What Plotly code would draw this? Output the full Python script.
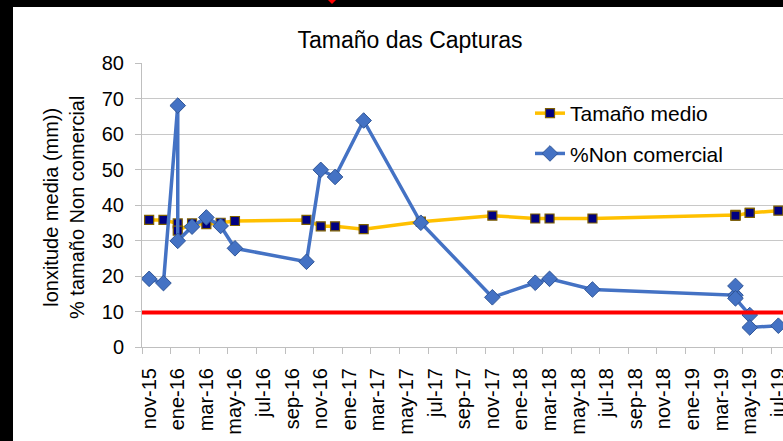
import plotly.graph_objects as go

# datos leidos da grafica (un punto por mostraxe)
fechas = ["2015-11", "2015-12", "2016-01", "2016-01", "2016-02", "2016-03", "2016-04",
          "2016-05", "2016-10", "2016-11", "2016-12", "2017-02", "2017-06", "2017-11",
          "2018-02", "2018-03", "2018-06", "2019-04", "2019-04", "2019-04", "2019-05",
          "2019-05", "2019-07"]
tamano_medio = [35.8, 35.8, 34.8, 32.8, 34.8, 34.6, 35.0, 35.5, 35.8, 34.0, 34.0, 33.2,
                35.3, 37.0, 36.2, 36.2, 36.2, 37.2, 37.0, 37.0, 37.8, 37.8, 38.4]
non_comercial = [19.2, 18.0, 68.0, 29.9, 33.9, 36.5, 34.1, 27.8, 24.0, 49.9, 47.9, 63.8,
                 35.0, 14.0, 18.1, 19.2, 16.2, 14.6, 17.2, 13.7, 9.0, 5.5, 6.0]
limite = 9.7

etiquetas_x = ["nov-15", "ene-16", "mar-16", "may-16", "jul-16", "sep-16", "nov-16",
               "ene-17", "mar-17", "may-17", "jul-17", "sep-17", "nov-17", "ene-18",
               "mar-18", "may-18", "jul-18", "sep-18", "nov-18", "ene-19", "mar-19",
               "may-19", "jul-19"]

FONT = "Liberation Sans, Arial, sans-serif"
W, H = 783, 441
ML, MR, MT, MB = 142, 0, 63, 94
PW, PH = W - ML - MR, H - MT - MB
PX_MES = 14.3


def mes_index(f):
    y, m = f.split("-")
    return (int(y) - 2015) * 12 + int(m) - 11 + 0.5


def px2x(px):
    return (px - ML) / PW


def py2y(py):
    return (H - MB - py) / PH


x = [mes_index(f) for f in fechas]

fig = go.Figure()
fig.add_trace(go.Scatter(
    x=x, y=tamano_medio, mode="lines+markers", name="Tamaño medio",
    legendgroup="a",
    line=dict(color="#FFC000", width=3.5),
    marker=dict(symbol="square", size=9, color="#000080",
                line=dict(color="#7F6000", width=1.2)),
))
fig.add_trace(go.Scatter(
    x=x, y=non_comercial, mode="lines+markers", name="%Non comercial",
    legendgroup="b",
    line=dict(color="#4472C4", width=3.5),
    marker=dict(symbol="diamond", size=12, color="#4472C4",
                line=dict(color="#2F5597", width=1)),
))

shapes = [
    dict(type="line", xref="paper", yref="y", x0=0, x1=1, y0=limite, y1=limite,
         line=dict(color="#FF0000", width=4)),
    # bordes negros da captura
    dict(type="rect", xref="paper", yref="paper", x0=px2x(0), x1=px2x(13),
         y0=py2y(H), y1=py2y(0), fillcolor="black", line=dict(width=0), layer="above"),
    dict(type="rect", xref="paper", yref="paper", x0=px2x(0), x1=px2x(W),
         y0=py2y(7), y1=py2y(0), fillcolor="black", line=dict(width=0), layer="above"),
    dict(type="path", xref="paper", yref="paper", layer="above",
         path="M %f %f L %f %f L %f %f Z" % (px2x(328), py2y(0), px2x(336), py2y(0),
                                              px2x(332), py2y(4)),
         fillcolor="#FF0000", line=dict(width=0)),
]

fig.update_layout(
    width=W, height=H,
    margin=dict(l=ML, r=MR, t=MT, b=MB, autoexpand=False),
    paper_bgcolor="white", plot_bgcolor="white",
    font=dict(family=FONT, color="black", size=20),
    title=dict(text="Tamaño das Capturas", font=dict(size=23, color="black"),
               x=410 / W, xref="container", xanchor="center",
               y=1 - 40 / H, yref="container", yanchor="middle"),
    showlegend=True,
    legend=dict(x=px2x(530), y=py2y(93), xanchor="left", yanchor="top",
                bgcolor="rgba(0,0,0,0)", font=dict(size=21),
                traceorder="grouped", tracegroupgap=10),
    shapes=shapes,
    annotations=[dict(
        text="lonxitude media (mm))<br>% tamaño Non comercial",
        textangle=-90, xref="paper", yref="paper", x=px2x(64), y=py2y(208),
        xanchor="center", yanchor="middle", showarrow=False,
        font=dict(size=20, color="black"),
    )],
)

fig.update_xaxes(
    range=[0, PW / PX_MES], showgrid=False, zeroline=False, automargin=False,
    showline=True, linecolor="#BFBFBF", linewidth=1,
    tickmode="array", tickvals=[2 * i + 0.5 for i in range(len(etiquetas_x))],
    ticktext=etiquetas_x, tickangle=-90, ticks="", ticklabelstandoff=12,
    ticklabeloverflow="allow", tickfont=dict(size=20),
    minor=dict(tickvals=[2 * i for i in range(len(etiquetas_x))], ticks="outside",
               ticklen=6, tickcolor="#BFBFBF", showgrid=False),
)
fig.update_yaxes(
    range=[0, 80], dtick=10, showgrid=True, gridcolor="#C8C8C8", gridwidth=1.3,
    zeroline=False, showline=True, linecolor="#BFBFBF", linewidth=1, automargin=False,
    ticks="outside", ticklen=6, tickcolor="#BFBFBF", ticklabelstandoff=7,
    tickfont=dict(size=20),
)

fig.write_html("out.html", config={"displayModeBar": False},
               post_script="document.body.style.margin='0px';"
                           "document.body.style.background='white';"
                           "document.body.style.overflow='hidden';"
                           "document.documentElement.style.overflow='hidden';")
